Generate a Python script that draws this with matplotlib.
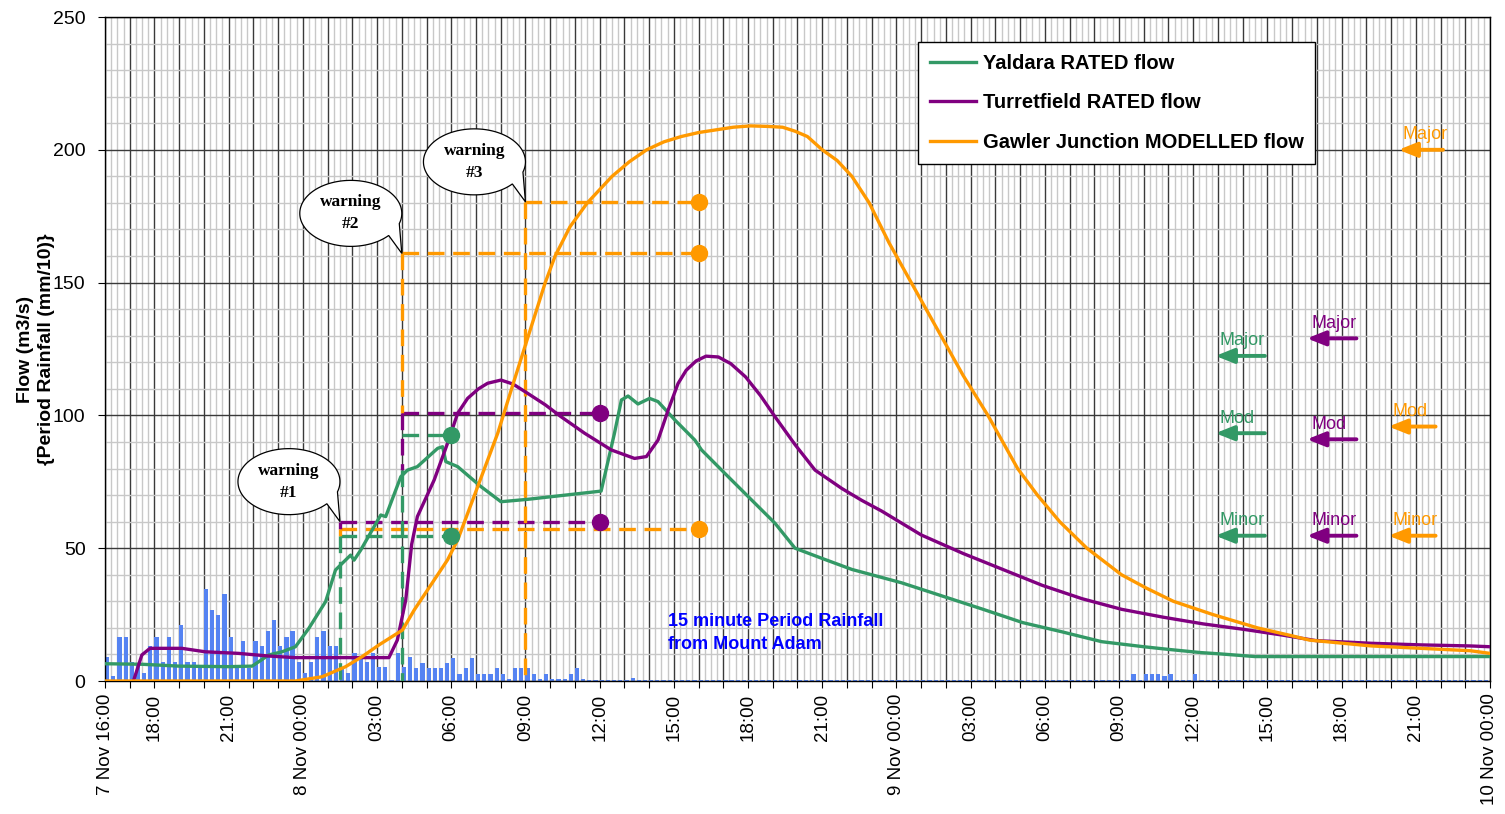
import matplotlib
matplotlib.use('Agg')
import matplotlib.pyplot as plt
import numpy as np
from matplotlib.ticker import MultipleLocator, FuncFormatter
from matplotlib.path import Path
from matplotlib.patches import PathPatch

plt.rcParams['font.family'] = ['Liberation Sans', 'DejaVu Sans']

# ---------------- data (time in hours after 7 Nov 16:00) ----------------
yaldara_t = [0, 1.5, 3.0, 5.0, 5.95, 6.62, 7.16, 7.70, 8.24, 8.92, 9.32, 9.93, 10.07, 10.34,
             11.15, 11.35, 11.96, 12.23, 12.63, 13.45, 13.65, 13.78, 14.26, 15.2, 16.01, 17.09,
             20.06, 20.6, 20.88, 21.15, 21.55, 22.02, 22.36, 23.04, 23.85, 24.12, 25.06, 26.01,
             27.09, 27.9, 28.98, 30.2, 31.0, 32.2, 33.85, 35.5, 37.1, 38.7, 40.3, 42.0, 43.0,
             44.3, 45.1, 46.5, 56.0]
yaldara_v = [6.5, 6.3, 5.6, 5.4, 5.6, 9.8, 11.0, 12.9, 19.8, 29.9, 41.8, 47.4, 45.5, 49.3,
             62.5, 61.9, 76.9, 79.4, 80.7, 87.6, 88.2, 82.6, 80.7, 73.2, 67.5, 68.4,
             71.5, 93.3, 105.8, 107.3, 104.3, 106.4, 105.2, 98.3, 90.7, 87.0, 78.2, 69.4,
             59.4, 50.0, 46.2, 42.0, 40.0, 37.0, 32.0, 27.0, 22.0, 18.5, 14.8, 12.9, 11.9,
             10.7, 10.2, 9.2, 9.2]

turret_t = [1.15, 1.49, 1.82, 3.11, 4.05, 5.4, 6.62, 7.7, 11.48, 11.82, 12.16, 12.4, 12.63,
            13.31, 13.85, 14.26, 14.66, 15.1, 15.47, 16.01, 16.5, 17.09, 17.8, 18.44, 19.39,
            20.47, 21.41, 21.89, 22.36, 22.77, 23.17, 23.5, 23.9, 24.3, 24.8, 25.3, 25.9, 26.5,
            27.09, 27.9, 28.71, 29.79, 30.6, 31.4, 33.0, 34.7, 36.3, 37.9, 39.5, 41.1, 42.8,
            44.4, 46.0, 47.6, 48.97, 51.2, 53.2, 55.2, 56.0]
turret_v = [0, 9.8, 12.3, 12.3, 11.0, 10.4, 9.4, 8.8, 8.8, 15.4, 30.5, 51.5, 61.9,
            75.7, 89.5, 100.8, 106.4, 110.0, 112.1, 113.3, 111.8, 108.3, 104.0, 99.5, 93.3,
            87.0, 83.8, 84.5, 90.7, 102.0, 112.0, 117.0, 120.5, 122.3, 122.0, 119.5, 114.5, 107.5,
            99.5, 89.0, 79.4, 72.5, 68.0, 64.0, 55.0, 48.0, 42.0, 36.0, 31.0, 27.0, 24.0,
            21.5, 19.5, 17.3, 15.2, 14.2, 13.6, 13.2, 12.9]

gawler_t = [0, 7.7, 8.78, 9.73, 10.4, 11.08, 12.03, 12.5, 13.85, 14.26, 15.07, 15.88, 16.55,
            17.8, 18.2, 18.8, 19.5, 20.5, 21.2, 21.9, 22.6, 23.3, 24.0, 24.7, 25.4, 26.1, 26.8,
            27.4, 27.9, 28.4, 29.0, 29.6, 30.2, 30.9, 31.7, 32.6, 33.2, 33.8, 34.7, 35.7, 36.3,
            36.9, 37.7, 38.6, 39.7, 40.4, 41.1, 42.1, 43.2, 44.0, 44.8, 45.7, 46.6, 47.3, 48.0,
            48.7, 51.2, 53.2, 55.2, 56.0]
gawler_v = [0, 0, 1.6, 5.4, 9.2, 13.6, 19.2, 26.7, 45.6, 53.1, 73.2, 93.3, 113.3,
            150, 160, 171, 180, 190, 195.5, 200, 203, 205, 206.5, 207.5, 208.5, 209, 208.8,
            208.5, 207, 205, 200, 196, 190, 180, 165, 150, 140, 130, 115, 100, 90,
            80, 70, 60, 50, 45, 40, 35, 30, 27.5, 25, 22.5, 20, 18.5, 17,
            15.4, 13.2, 12.3, 11.4, 10.4]

# 15-minute period rainfall from Mount Adam (mm/10), one value per 15 minutes from 7 Nov 16:00
rain_step_h = 0.25
rain_v = [8.9, 2, 16.7, 16.7, 7, 6, 3, 13, 16.7, 7,
          16.7, 7, 21, 7, 7, 5, 34.5, 26.7, 24.8, 32.7,
          16.7, 6, 15, 5, 15, 13, 18.8, 23, 13, 16.7,
          18.8, 7, 3, 7, 16.7, 18.8, 13, 13, 5, 3,
          10.7, 9, 7, 10.7, 5.4, 5.4, 0.4, 10.7, 5.4, 8.9,
          4.8, 6.9, 4.8, 4.8, 4.8, 6.9, 8.5, 2.6, 4.8, 8.5,
          2.6, 2.6, 2.6, 4.8, 2.6, 0.6, 4.8, 4.8, 4.8, 2.6,
          0.6, 2.6, 0.6, 0.6, 0.6, 2.6, 4.8, 0.6,
          0.4, 0.4, 0.4, 0.4, 0.4, 0.4, 0.4, 1.2, 0.4, 0.4,
          0.4, 0.4, 0.4, 0.4, 0.4, 0.4, 0.4, 0.4, 0.4, 0.4,
          0.4, 0.4, 0.4, 0.4, 0.4, 0.4, 0.4, 0.4, 0.4, 0.4,
          0.4, 0.4, 0.4, 0.4, 0.4, 0.4, 0.4, 0.4, 0.4, 0.4,
          0.4, 0.4, 0.4, 0.4, 0.4, 0.4, 0.4, 0.4, 0.4, 0.4,
          0.4, 0.4, 0.4, 0.4, 0.4, 0.4, 0.4, 0.4, 0.4, 0.4,
          0.4, 0.4, 0.4, 0.4, 0.4, 0.4, 0.4, 0.4, 0.4, 0.4,
          0.4, 0.4, 0.4, 0.4, 0.4, 0.4, 0.4, 0.4, 0.4, 0.4,
          0.4, 0.4, 0.4, 0.4, 0.4, 0.4, 0.4, 0.4, 2.5, 0.4,
          2.5, 2.5, 2.5, 2.0, 2.5, 0.4, 0.4, 0.4, 2.5, 0.4,
          0.4, 0.4, 0.4, 0.4, 0.4, 0.4, 0.4, 0.4, 0.4, 0.4,
          0.4, 0.4, 0.4, 0.4, 0.4, 0.4, 0.4, 0.4, 0.4, 0.4,
          0.4, 0.4, 0.4, 0.4, 0.4, 0.4, 0.4, 0.4, 0.4, 0.4,
          0.4, 0.4, 0.4, 0.4, 0.4, 0.4, 0.4, 0.4, 0.4, 0.4,
          0.4, 0.4, 0.4, 0.4, 0.4, 0.4]

tick_hours = [0, 2, 5, 8, 11, 14, 17, 20, 23, 26, 29, 32, 35, 38, 41, 44, 47, 50, 53, 56]
tick_labels = ["7 Nov 16:00", "18:00", "21:00", "8 Nov 00:00", "03:00", "06:00", "09:00",
               "12:00", "15:00", "18:00", "21:00", "9 Nov 00:00", "03:00", "06:00", "09:00",
               "12:00", "15:00", "18:00", "21:00", "10 Nov 00:00"]

# warnings: time issued, horizontal levels (series, value, end time of line)
warn_times = [9.5, 12.0, 17.0]
warn_names = ["warning\n#1", "warning\n#2", "warning\n#3"]
warn_h_series = ["g", "p", "o", "g", "p", "o", "o"]
warn_h_start = [9.5, 9.5, 9.5, 12.0, 12.0, 12.0, 17.0]
warn_h_level = [54.6, 60.0, 57.4, 92.8, 101.0, 161.0, 180.4]
warn_h_end = [14.0, 20.0, 24.0, 14.0, 20.0, 24.0, 24.0]
warn_v_series = ["p", "o", "g", "o", "p", "g", "o"]
warn_v_time = [9.5, 9.5, 9.5, 12.0, 12.0, 12.0, 17.0]
warn_v_top = [60.0, 57.4, 54.6, 161.0, 101.0, 79.4, 180.4]
warn_v_bottom = [57.4, 54.6, 0.0, 101.0, 79.4, 0.0, 0.0]
warn_tips = [60.0, 161.0, 180.4]

# flood level arrows
lvl_series = ["g", "g", "g", "p", "p", "p", "o", "o", "o"]
lvl_names = ["Major", "Mod", "Minor", "Major", "Mod", "Minor", "Major", "Mod", "Minor"]
lvl_values = [122.4, 93.3, 54.7, 129.0, 91.0, 54.7, 200.0, 95.8, 54.7]
lvl_tip = [44.9, 44.9, 44.9, 48.6, 48.6, 48.6, 52.3, 51.9, 51.9]
lvl_tail = [46.9, 46.9, 46.9, 50.6, 50.6, 50.6, 54.1, 53.8, 53.8]

colors = {"g": "#339966", "p": "#800080", "o": "#FF9900"}
dot_time = {"g": 14.0, "p": 20.0, "o": 24.0}

# ---------------- figure ----------------
fig = plt.figure(figsize=(15.05, 8.14), dpi=100)
ax = fig.add_axes([105 / 1505, 1 - 681 / 814, 1385 / 1505, 664 / 814])
ax.set_xlim(0, 56)
ax.set_ylim(0, 250)

label_map = dict(zip(tick_hours, tick_labels))
ax.xaxis.set_major_locator(MultipleLocator(1))
ax.xaxis.set_minor_locator(MultipleLocator(0.25))
ax.xaxis.set_major_formatter(FuncFormatter(lambda v, p: label_map.get(int(round(v)), "")))
ax.yaxis.set_major_locator(MultipleLocator(50))
ax.yaxis.set_minor_locator(MultipleLocator(10))
ax.grid(which="minor", color="#c8c8c8", lw=1.0, zorder=0)
ax.grid(which="major", color="#3a3a3a", lw=1.0, zorder=0)
ax.set_axisbelow(True)
ax.tick_params(axis="x", which="major", length=5, direction="out", pad=4, labelsize=13.5,
               labelrotation=90)
ax.tick_params(axis="y", which="major", length=5, direction="out", pad=9, labelsize=14)
ax.tick_params(which="minor", length=0)
for lbl in ax.get_xticklabels():
    lbl.set_va("top")
for s in ax.spines.values():
    s.set_color("black")
    s.set_linewidth(1.0)

# rainfall
rain_t = np.arange(len(rain_v)) * rain_step_h
ax.bar(rain_t, rain_v, width=0.17, align="edge", color="#5583f2", edgecolor="none", zorder=2)

# warning dashed lines
dash = (0, (5, 2.6))
for s, t0, lv, t1 in zip(warn_h_series, warn_h_start, warn_h_level, warn_h_end):
    ax.plot([t0, t1], [lv, lv], color=colors[s], lw=2.4, linestyle=dash, zorder=3,
            solid_capstyle="butt")
    ax.plot([dot_time[s]], [lv], "o", color=colors[s], ms=11.5, zorder=6)
for s, t0, top, bot in zip(warn_v_series, warn_v_time, warn_v_top, warn_v_bottom):
    ax.plot([t0, t0], [top, bot], color=colors[s], lw=2.4, linestyle=dash, zorder=3)

# flow curves
ax.plot(yaldara_t, yaldara_v, color=colors["g"], lw=2.4, zorder=5, label="Yaldara RATED flow")
ax.plot(turret_t, turret_v, color=colors["p"], lw=2.4, zorder=5, label="Turretfield RATED flow")
ax.plot(gawler_t, gawler_v, color=colors["o"], lw=2.4, zorder=5,
        label="Gawler Junction MODELLED flow")

# level arrows
for s, nm, v, t0, t1 in zip(lvl_series, lvl_names, lvl_values, lvl_tip, lvl_tail):
    ax.annotate("", xy=(t0, v), xytext=(t1, v),
                arrowprops=dict(arrowstyle="-|>,head_length=0.55,head_width=0.22",
                                color=colors[s], lw=2.8, shrinkA=0, shrinkB=0,
                                mutation_scale=20), zorder=6)
    ax.annotate(nm, xy=(t0, v), xytext=(3, 7.5), textcoords="offset points",
                ha="left", va="baseline", color=colors[s], fontsize=13, zorder=6)

# speech bubbles
sx = ax.bbox.width / 56.0
sy = ax.bbox.height / 250.0
a_px, b_px = 51.0, 33.0
for tt, tv, txt in zip(warn_times, warn_tips, warn_names):
    ct = tt - 51.0 / sx
    cv = tv + 40.0 / sy
    th = np.radians(np.linspace(-18, 318, 200))
    xs = list(ct + a_px * np.cos(th) / sx) + [tt]
    ys = list(cv + b_px * np.sin(th) / sy) + [tv]
    verts = list(zip(xs, ys)) + [(xs[0], ys[0])]
    codes = [Path.MOVETO] + [Path.LINETO] * (len(verts) - 2) + [Path.CLOSEPOLY]
    ax.add_patch(PathPatch(Path(verts, codes), facecolor="white", edgecolor="black",
                           lw=0.9, zorder=8))
    ax.text(ct, cv, txt, ha="center", va="center", fontsize=12.5, fontweight="bold",
            family=["Liberation Serif", "DejaVu Serif"], linespacing=1.5, zorder=9)

# rainfall caption
ax.text(22.78, 25.5, "15 minute Period Rainfall\nfrom Mount Adam", color="#0000FF",
        fontsize=13, fontweight="bold", ha="left", va="top", linespacing=1.45, zorder=7)

# axis label
ax.set_ylabel("Flow (m3/s)\n{Period Rainfall (mm/10)}", fontsize=14, fontweight="bold",
              linespacing=1.3)
ax.yaxis.set_label_coords(-0.036, 0.5)

# legend
leg = ax.legend(loc="upper right", bbox_to_anchor=(0.874, 0.962), frameon=True,
                fancybox=False, edgecolor="black", framealpha=1.0,
                prop=dict(size=14.5, weight="bold"), handlelength=2.3, handletextpad=0.3,
                labelspacing=1.0, borderpad=0.6, borderaxespad=0)
leg.get_frame().set_linewidth(1.0)
leg.set_zorder(10)

fig.savefig("out.png", dpi=100)
